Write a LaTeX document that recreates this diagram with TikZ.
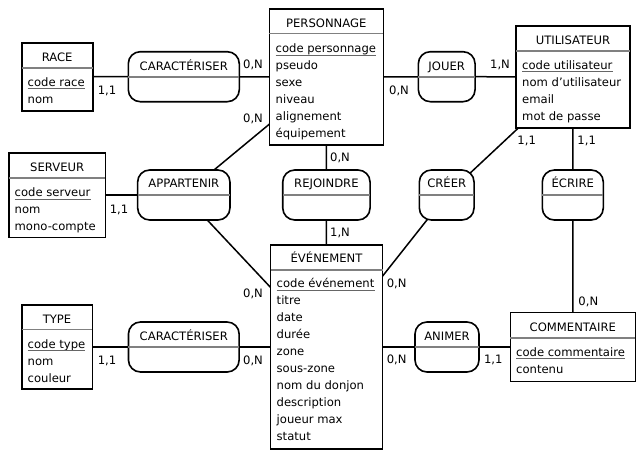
\documentclass[tikz,border=0pt]{standalone}
\usepackage{fontspec}
\setmainfont{DejaVu Sans}
\begin{document}
\begin{tikzpicture}[x=1pt,y=-1pt,
  every node/.style={font=\fontsize{11.6}{14}\selectfont},
  entbox/.style={draw, line width=1.6pt, fill=white, inner sep=0pt},
  assocbox/.style={draw, line width=1.6pt, fill=white, rounded corners=12pt, inner sep=0pt, minimum height=50pt},
  sepline/.style={draw=black!50, line width=1.6pt, shorten <=0.8pt, shorten >=0.8pt},
  ulline/.style={draw=black!60, line width=0.9pt},
  link/.style={draw, line width=1.5pt},
  ttl/.style={anchor=base, inner sep=0pt},
  att/.style={anchor=base west, inner sep=0pt},
  card/.style={anchor=base, inner sep=0pt}]
\useasboundingbox (0,0) rectangle (644,458);

% ---------- connectors (drawn first, boxes cover them) ----------
\coordinate (cRace) at (57.2,76.7);
\coordinate (cPers) at (326.3,77);
\coordinate (cUtil) at (573,76.85);
\coordinate (cServ) at (57.15,195);
\coordinate (cEven) at (326.5,347);
\coordinate (cType) at (57,347);
\coordinate (cComm) at (572.8,347);
\coordinate (cCar1) at (183.8,76.7);
\coordinate (cJoue) at (446.7,76.7);
\coordinate (cAppa) at (183.8,195);
\coordinate (cRejo) at (326.4,195);
\coordinate (cCree) at (446.7,195);
\coordinate (cEcri) at (572.8,195);
\coordinate (cCar2) at (183.8,347);
\coordinate (cAnim) at (447,347);

\draw[link] (cRace) -- (cCar1) -- (cPers);
\draw[link] (cPers) -- (cJoue) -- (cUtil);
\draw[link] (cServ) -- (cAppa);
\draw[link] (cAppa) -- (cPers);
\draw[link] (cAppa) -- (cEven);
\draw[link] (cPers) -- (cRejo) -- (cEven);
\draw[link] (cUtil) -- (cCree) -- (cEven);
\draw[link] (cUtil) -- (cEcri) -- (cComm);
\draw[link] (cType) -- (cCar2) -- (cEven);
\draw[link] (cEven) -- (cAnim) -- (cComm);

% ---------- entities ----------
% RACE
\node[entbox, minimum width=71pt, minimum height=68pt] (race) at (cRace) {};
\draw[sepline] (race.west |- 0,67.7) -- (race.east |- 0,67.7);
\node[ttl] (raceT) at (57.2,61.5) {RACE};
\node[att] (raceA1) at (27.5,86.2) {code race};
\node[att] (raceA2) at (27.5,103.1) {nom};
\draw[ulline] ([yshift=-2.4pt]raceA1.base west) -- ([yshift=-2.4pt]raceA1.base east);

% PERSONNAGE
\node[entbox, minimum width=114pt, minimum height=136pt] (pers) at (cPers) {};
\draw[sepline] (pers.west |- 0,33.3) -- (pers.east |- 0,33.3);
\node[ttl] (persT) at (326.3,27.2) {PERSONNAGE};
\node[att] (persA1) at (275.5,52.8) {code personnage};
\node[att] (persA2) at (275.5,69.7) {pseudo};
\node[att] (persA3) at (275.5,86.6) {sexe};
\node[att] (persA4) at (275.5,103.5) {niveau};
\node[att] (persA5) at (275.5,120.4) {alignement};
\node[att] (persA6) at (275.5,137.3) {équipement};
\draw[ulline] ([yshift=-2.4pt]persA1.base west) -- ([yshift=-2.4pt]persA1.base east);

% UTILISATEUR
\node[entbox, minimum width=114pt, minimum height=101.7pt] (util) at (cUtil) {};
\draw[sepline] (util.west |- 0,50.7) -- (util.east |- 0,50.7);
\node[ttl] (utilT) at (573,44.2) {UTILISATEUR};
\node[att] (utilA1) at (522,69.5) {code utilisateur};
\node[att] (utilA2) at (522,86.4) {nom d’utilisateur};
\node[att] (utilA3) at (522,103.3) {email};
\node[att] (utilA4) at (522,120.2) {mot de passe};
\draw[ulline] ([yshift=-2.4pt]utilA1.base west) -- ([yshift=-2.4pt]utilA1.base east);

% SERVEUR
\node[entbox, minimum width=96.3pt, minimum height=84.6pt] (serv) at (cServ) {};
\draw[sepline] (serv.west |- 0,177.7) -- (serv.east |- 0,177.7);
\node[ttl] (servT) at (57.15,171.2) {SERVEUR};
\node[att] (servA1) at (14.5,196.8) {code serveur};
\node[att] (servA2) at (14.5,213.7) {nom};
\node[att] (servA3) at (14.5,230.6) {mono-compte};
\draw[ulline] ([yshift=-2.4pt]servA1.base west) -- ([yshift=-2.4pt]servA1.base east);

% EVENEMENT
\node[entbox, minimum width=112pt, minimum height=204pt] (even) at (cEven) {};
\draw[sepline] (even.west |- 0,270) -- (even.east |- 0,270);
\node[ttl] (evenT) at (326.5,262.8) {ÉVÉNEMENT};
\node[att] (evenA1) at (276.5,287.8) {code événement};
\node[att] (evenA2) at (276.5,304.8) {titre};
\node[att] (evenA3) at (276.5,321.8) {date};
\node[att] (evenA4) at (276.5,338.8) {durée};
\node[att] (evenA5) at (276.5,355.8) {zone};
\node[att] (evenA6) at (276.5,372.8) {sous-zone};
\node[att] (evenA7) at (276.5,389.8) {nom du donjon};
\node[att] (evenA8) at (276.5,406.8) {description};
\node[att] (evenA9) at (276.5,423.8) {joueur max};
\node[att] (evenA10) at (276.5,440.8) {statut};
\draw[ulline] ([yshift=-2.4pt]evenA1.base west) -- ([yshift=-2.4pt]evenA1.base east);

% TYPE
\node[entbox, minimum width=70.6pt, minimum height=84pt] (type) at (cType) {};
\draw[sepline] (type.west |- 0,329.3) -- (type.east |- 0,329.3);
\node[ttl] (typeT) at (57,323.5) {TYPE};
\node[att] (typeA1) at (27.5,348.5) {code type};
\node[att] (typeA2) at (27.5,365.4) {nom};
\node[att] (typeA3) at (27.5,382.3) {couleur};
\draw[ulline] ([yshift=-2.4pt]typeA1.base west) -- ([yshift=-2.4pt]typeA1.base east);

% COMMENTAIRE
\node[entbox, minimum width=125pt, minimum height=68.7pt] (comm) at (cComm) {};
\draw[sepline] (comm.west |- 0,337.7) -- (comm.east |- 0,337.7);
\node[ttl] (commT) at (572.8,331.2) {COMMENTAIRE};
\node[att] (commA1) at (516,356.2) {code commentaire};
\node[att] (commA2) at (516,373.1) {contenu};
\draw[ulline] ([yshift=-2.4pt]commA1.base west) -- ([yshift=-2.4pt]commA1.base east);

% ---------- associations ----------
\node[assocbox, minimum width=111pt] (car1) at (cCar1) {};
\draw[sepline] (car1.west) -- (car1.east);
\node[ttl] (car1T) at (183.8,70.5) {CARACTÉRISER};

\node[assocbox, minimum width=56.7pt] (joue) at (cJoue) {};
\draw[sepline] (joue.west) -- (joue.east);
\node[ttl] (joueT) at (446.7,70.5) {JOUER};

\node[assocbox, minimum width=92.3pt] (appa) at (cAppa) {};
\draw[sepline] (appa.west) -- (appa.east);
\node[ttl] (appaT) at (183.8,187.8) {APPARTENIR};

\node[assocbox, minimum width=87.3pt] (rejo) at (cRejo) {};
\draw[sepline] (rejo.west) -- (rejo.east);
\node[ttl] (rejoT) at (326.4,187.8) {REJOINDRE};

\node[assocbox, minimum width=54.7pt] (cree) at (cCree) {};
\draw[sepline] (cree.west) -- (cree.east);
\node[ttl] (creeT) at (446.7,187.8) {CRÉER};

\node[assocbox, minimum width=61pt] (ecri) at (cEcri) {};
\draw[sepline] (ecri.west) -- (ecri.east);
\node[ttl] (ecriT) at (572.8,187.8) {ÉCRIRE};

\node[assocbox, minimum width=110.7pt] (car2) at (cCar2) {};
\draw[sepline] (car2.west) -- (car2.east);
\node[ttl] (car2T) at (183.8,340.5) {CARACTÉRISER};

\node[assocbox, minimum width=64pt] (anim) at (cAnim) {};
\draw[sepline] (anim.west) -- (anim.east);
\node[ttl] (animT) at (447,340.5) {ANIMER};

% ---------- cardinalities ----------
\node[card] (k1) at (107,94.5) {1,1};
\node[card] (k2) at (253,68.5) {0,N};
\node[card] (k3) at (399,94.5) {0,N};
\node[card] (k4) at (500,68.5) {1,N};
\node[card] (k5) at (119,213.5) {1,1};
\node[card] (k6) at (253,122.2) {0,N};
\node[card] (k7) at (253,297.8) {0,N};
\node[card] (k8) at (340,161.2) {0,N};
\node[card] (k9) at (340,236.8) {1,N};
\node[card] (k10) at (526.7,144.5) {1,1};
\node[card] (k11) at (396.7,287.2) {0,N};
\node[card] (k12) at (586.7,144.5) {1,1};
\node[card] (k13) at (588.3,305.2) {0,N};
\node[card] (k14) at (107,364.5) {1,1};
\node[card] (k15) at (253,364.5) {0,N};
\node[card] (k16) at (396.7,363.8) {0,N};
\node[card] (k17) at (493.3,363.8) {1,1};
\end{tikzpicture}
\end{document}
